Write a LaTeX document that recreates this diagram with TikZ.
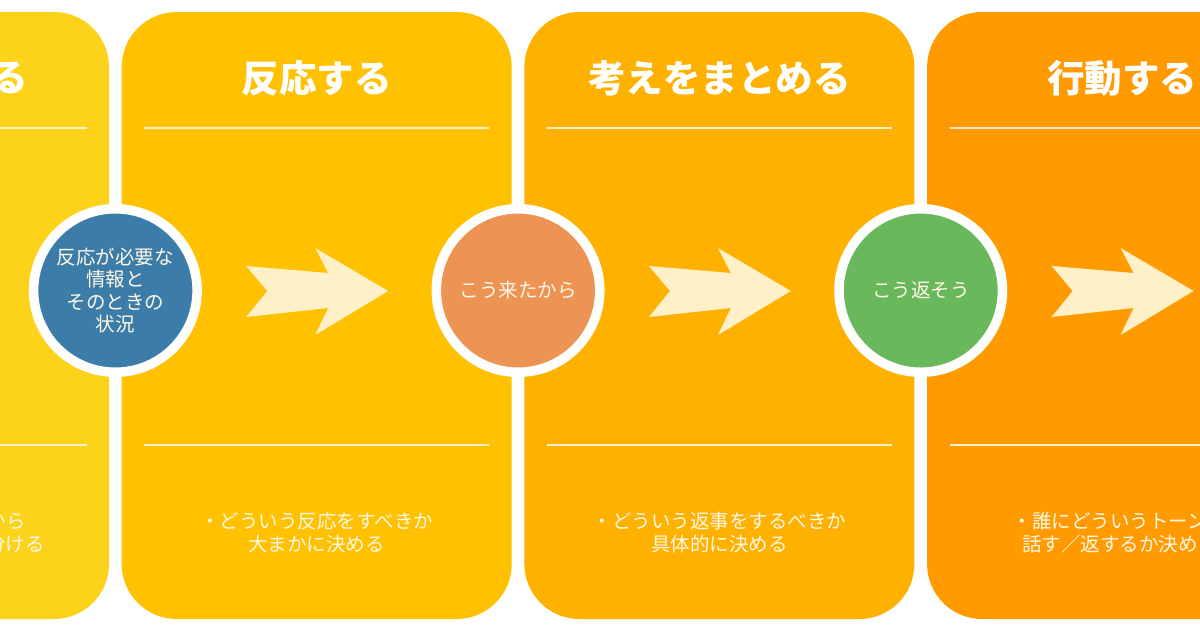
\documentclass[tikz,border=0pt]{standalone}
\usepackage{fontspec}
\setmainfont{Noto Sans CJK JP}
\usetikzlibrary{positioning,calc}

\definecolor{paneA}{HTML}{FCD21A}
\definecolor{paneB}{HTML}{FFC100}
\definecolor{paneC}{HTML}{FFB100}
\definecolor{paneD}{HTML}{FF9B00}
\definecolor{cream}{HTML}{FFF0C8}
\definecolor{softwhite}{HTML}{FFF8E6}
\definecolor{dotA}{HTML}{3B7CA8}
\definecolor{dotB}{HTML}{ED9454}
\definecolor{dotC}{HTML}{6AB85C}

\begin{document}
\begin{tikzpicture}[x=1pt,y=-1pt]
    % Define styles
    \tikzstyle{panel} = [rectangle, rounded corners=55pt, minimum width=390pt, minimum height=607pt, inner sep=0pt, outer sep=0pt]
    \tikzstyle{title} = [text=white, font=\fontsize{37.5}{40}\selectfont\bfseries, inner sep=0pt]
    \tikzstyle{body} = [text=softwhite, font=\fontsize{19.5}{23.5}\selectfont, align=center, inner sep=0pt]
    \tikzstyle{dot} = [circle, draw=white, line width=9.5pt, minimum size=163.5pt, text=softwhite, font=\fontsize{19.5}{22.5}\selectfont, align=center, inner sep=0pt]
    \tikzstyle{rule} = [draw=cream, line width=2.6pt]
    \tikzstyle{chevron} = [fill=cream]

    \useasboundingbox (0,0) rectangle (1200,630);
    \clip (0,0) rectangle (1200,630);

    % Panels
    \node[panel, fill=paneA] (p1) at (-86,315.5) {};
    \node[panel, fill=paneB, right=12.7pt of p1] (p2) {};
    \node[panel, fill=paneC, right=12.7pt of p2] (p3) {};
    \node[panel, fill=paneD, right=12.7pt of p3] (p4) {};

    % Rules
    \foreach \p in {p1,p2,p3,p4} {
        \draw[rule] ($(\p.north west)+(22.5,116)$) -- ($(\p.north east)+(-22.5,116)$);
        \draw[rule] ($(\p.north west)+(22.5,433)$) -- ($(\p.north east)+(-22.5,433)$);
    }

    % Titles
    \node[title, anchor=east] (t1) at (28,78) {る};
    \node[title] (t2) at ([yshift=-66pt]p2.north) {反応する};
    \node[title] (t3) at ([yshift=-66pt]p3.north) {考えをまとめる};
    \node[title] (t4) at ([yshift=-66pt]p4.north) {行動する};

    % Texts
    \node[body, anchor=east] (b1a) at (26,521) {から};
    \node[body, anchor=east] (b1b) at (45,544.5) {分ける};
    \node[body] (b2) at ([yshift=-217pt]p2.center) {・どういう反応をすべきか\\大まかに決める};
    \node[body] (b3) at ([yshift=-217pt]p3.center) {・どういう返事をするべきか\\具体的に決める};
    \node[body, anchor=west] (b4a) at (1012.5,521) {・誰にどういうトーン};
    \node[body, anchor=west] (b4b) at (1022,544.5) {話す／返するか決め};

    % Arrows
    \foreach \p in {p2,p3,p4} {
        \fill[chevron] ($(\p.center)+(71.5,-24.5)$) -- ++(-73,-43) -- ++(13,25) -- ++(-82,-7) -- ++(21,25) -- ++(-21,26) -- ++(82,-9) -- ++(-13,27) -- cycle;
    }

    % Circles
    \node[dot, fill=dotA] (c1) at ($(p1.east)!0.5!(p2.west)+(0,-25)$) {反応が必要な\\情報と\\そのときの\\状況};
    \node[dot, fill=dotB] (c2) at ($(p2.east)!0.5!(p3.west)+(0,-25)$) {こう来たから};
    \node[dot, fill=dotC] (c3) at ($(p3.east)!0.5!(p4.west)+(0,-25)$) {こう返そう};

\end{tikzpicture}
\end{document}
